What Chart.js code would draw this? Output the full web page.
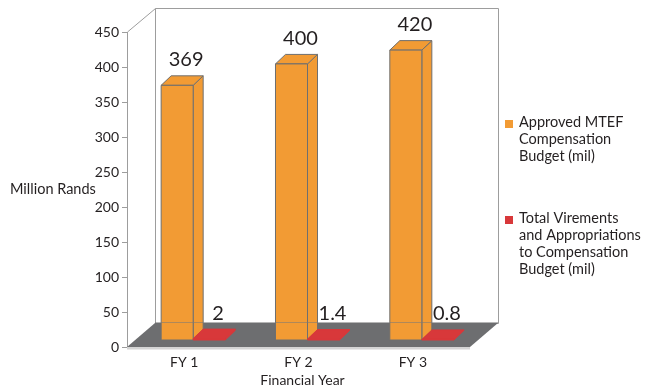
<!DOCTYPE html>
<html>
<head>
<meta charset="utf-8">
<script src="https://cdn.jsdelivr.net/npm/chart.js@4.4.0/dist/chart.umd.min.js"></script>
<style>
  html, body { margin: 0; padding: 0; background: #ffffff; }
  #wrap { width: 645px; height: 392px; }
</style>
</head>
<body>
<div id="wrap"><canvas id="chart" width="645" height="392"></canvas></div>
<script>
// ---- data ----
const categories = ['FY 1', 'FY 2', 'FY 3'];
const approvedBudget = [369, 400, 420];
const virementsTotal = [2, 1.4, 0.8];
const approvedName = ['Approved MTEF', 'Compensation', 'Budget (mil)'];
const virementsName = ['Total Virements', 'and Appropriations', 'to Compensation', 'Budget (mil)'];
const yMin = 0;
const yMax = 450;
const yStep = 50;

// ---- look ----
const FONT = 'Lato, "Open Sans", sans-serif';
const TEXT = '#231f20';
const ORANGE = '#f29b34';
const RED = '#d8383a';
const FLOOR = '#6d6e70';
const EDGE = '#6f6f6f';
const WALL_LINE = '#9d9d9d';

// oblique projection offsets (px)
const WALL_DX = 28, WALL_DY = -24;   // full depth of the walls / floor
const PLANE_DX = 9, PLANE_DY = -7;   // where the bar row sits inside that depth
const BOX_DX = 10, BOX_DY = -9.5;    // depth of each bar
const FORESHORTEN = 0.986;           // bars sit further back, so they read slightly shorter

function poly(ctx, pts) {
  ctx.beginPath();
  ctx.moveTo(pts[0][0], pts[0][1]);
  for (let i = 1; i < pts.length; i++) ctx.lineTo(pts[i][0], pts[i][1]);
  ctx.closePath();
}

function drawBox(ctx, x0, x1, yb, yt, fill, stroke) {
  ctx.fillStyle = fill;
  ctx.strokeStyle = stroke;
  ctx.lineWidth = 1;
  // side face
  poly(ctx, [[x1, yb], [x1 + BOX_DX, yb + BOX_DY], [x1 + BOX_DX, yt + BOX_DY], [x1, yt]]);
  ctx.fill(); ctx.stroke();
  // top face
  poly(ctx, [[x0, yt], [x1, yt], [x1 + BOX_DX, yt + BOX_DY], [x0 + BOX_DX, yt + BOX_DY]]);
  ctx.fill(); ctx.stroke();
  // front face
  ctx.beginPath();
  ctx.rect(x0, yt, x1 - x0, yb - yt);
  ctx.fill(); ctx.stroke();
}

const scene3d = {
  id: 'scene3d',
  beforeDatasetsDraw(chart) {
    const ctx = chart.ctx;
    const a = chart.chartArea;
    const y = chart.scales.y;
    const yTop = y.getPixelForValue(yMax);
    const y0 = y.getPixelForValue(0);

    ctx.save();
    // back wall and left wall edges
    ctx.strokeStyle = WALL_LINE;
    ctx.lineWidth = 1;
    ctx.beginPath();
    ctx.rect(Math.round(a.left + WALL_DX) + 0.5, Math.round(yTop + WALL_DY) + 0.5,
             Math.round(a.right - a.left), Math.round(y0 - yTop));
    ctx.moveTo(a.left + 0.5, yTop);
    ctx.lineTo(a.left + WALL_DX + 0.5, yTop + WALL_DY + 0.5);
    ctx.stroke();

    // floor
    ctx.fillStyle = '#d4d4d4';
    ctx.fillRect(a.left, y0, a.right - a.left, 2.5);
    ctx.fillStyle = FLOOR;
    poly(ctx, [[a.left, y0], [a.right, y0], [a.right + WALL_DX, y0 + WALL_DY], [a.left + WALL_DX, y0 + WALL_DY]]);
    ctx.fill();

    // bars as boxes, derived from the bar elements and the value scale
    const sets = [
      { values: approvedBudget, fill: ORANGE, stroke: EDGE },
      { values: virementsTotal, fill: RED, stroke: RED }
    ];
    const labels = [];
    sets.forEach((s, di) => {
      const meta = chart.getDatasetMeta(di);
      meta.data.forEach((el, i) => {
        const v = s.values[i];
        const x0 = el.x - el.width / 2 + PLANE_DX;
        const x1 = x0 + el.width;
        const yb = y0 + PLANE_DY;
        const yt = yb - (y0 - y.getPixelForValue(v)) * FORESHORTEN;
        drawBox(ctx, x0, x1, yb, yt, s.fill, s.stroke);
        labels.push({ text: String(v), x: (x0 + x1) / 2 + 9, y: yt - 19 });
      });
    });

    // back floor edge shows through the bars
    ctx.strokeStyle = 'rgba(120,120,120,0.55)';
    ctx.beginPath();
    ctx.moveTo(a.left + WALL_DX, Math.round(y0 + WALL_DY) - 0.5);
    ctx.lineTo(a.right + WALL_DX, Math.round(y0 + WALL_DY) - 0.5);
    ctx.stroke();

    // value labels
    ctx.fillStyle = TEXT;
    ctx.font = '20px ' + FONT;
    ctx.textAlign = 'center';
    ctx.textBaseline = 'alphabetic';
    labels.forEach(l => ctx.fillText(l.text, l.x, l.y));
    ctx.restore();
    return false;
  },
  afterDraw(chart) {
    const ctx = chart.ctx;
    const a = chart.chartArea;
    ctx.save();
    ctx.fillStyle = TEXT;
    ctx.textBaseline = 'alphabetic';

    // axis titles
    ctx.font = '14.5px ' + FONT;
    ctx.textAlign = 'left';
    ctx.fillText('Million Rands', 10, 194);
    ctx.font = '14px ' + FONT;
    ctx.textAlign = 'center';
    ctx.fillText('Financial Year', (a.left + a.right) / 2 + 4, 385);

    // legend
    const lx = a.right + 35;
    const entries = [
      { lines: chart.data.datasets[0].label, color: chart.data.datasets[0].backgroundColor, base: 127 },
      { lines: chart.data.datasets[1].label, color: chart.data.datasets[1].backgroundColor, base: 223 }
    ];
    ctx.font = '14.5px ' + FONT;
    ctx.textAlign = 'left';
    entries.forEach(e => {
      ctx.fillStyle = e.color;
      ctx.fillRect(lx, e.base - 7, 8, 8);
      ctx.fillStyle = TEXT;
      e.lines.forEach((t, k) => ctx.fillText(t, lx + 14, e.base + k * 17));
    });
    ctx.restore();
  }
};

new Chart(document.getElementById('chart'), {
  type: 'bar',
  data: {
    labels: categories,
    datasets: [
      { label: approvedName, data: approvedBudget, backgroundColor: ORANGE,
        categoryPercentage: 0.56, barPercentage: 1 },
      { label: virementsName, data: virementsTotal, backgroundColor: RED,
        categoryPercentage: 0.56, barPercentage: 1 }
    ]
  },
  options: {
    responsive: false,
    animation: false,
    layout: { padding: { left: 0, top: 32, right: 175, bottom: 0 } },
    plugins: { legend: { display: false }, tooltip: { enabled: false } },
    scales: {
      x: {
        grid: { display: false, drawTicks: false },
        border: { display: false },
        ticks: { padding: 7, color: TEXT, font: { family: FONT, size: 14 } },
        afterFit(s) { s.height = 45; }
      },
      y: {
        min: yMin,
        max: yMax,
        ticks: { stepSize: yStep, padding: 3, color: TEXT, font: { family: FONT, size: 14 } },
        grid: { drawOnChartArea: false, drawTicks: true, tickLength: 5, color: WALL_LINE },
        border: { display: true, color: WALL_LINE },
        afterFit(s) { s.width = 127; }
      }
    }
  },
  plugins: [scene3d]
});
</script>
</body>
</html>
